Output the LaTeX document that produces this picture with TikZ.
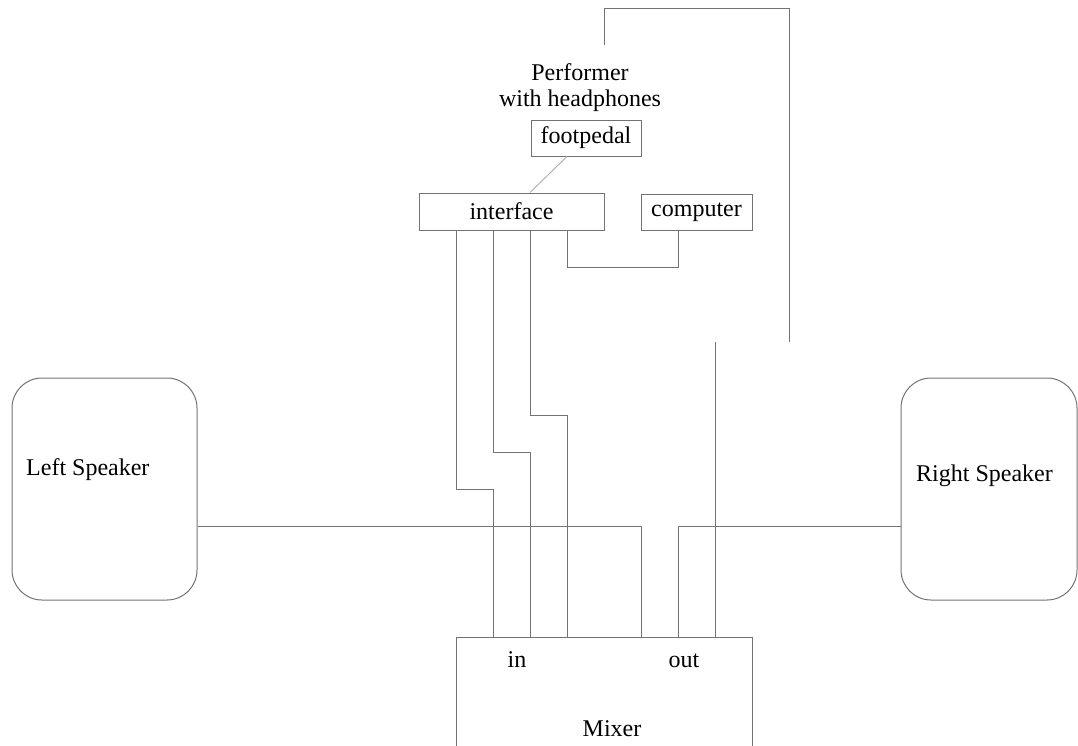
\documentclass[tikz,border=0pt]{standalone}
\usepackage{fontspec}
\setmainfont{Liberation Serif}
\usepackage{tikz}

\begin{document}
\begin{tikzpicture}[x=1pt,y=-1pt,
        font=\fontsize{24}{26}\selectfont,
        box/.style={draw=black!55,line width=1pt,inner sep=0pt},
        spk/.style={box,rounded corners=30pt},
        lbl/.style={inner sep=0pt},
        wire/.style={draw=black!55,line width=1pt}]
        \clip (0,0) rectangle (1078,745);

        % speakers
        \node[spk,minimum width=185pt,minimum height=222pt] (leftspk) at (104.5,489) {};
        \node[lbl,anchor=base west] (leftlbl) at (26,475) {Left Speaker};
        \node[spk,minimum width=176pt,minimum height=222pt] (rightspk) at (989,489) {};
        \node[lbl,anchor=base west] (rightlbl) at (916,481) {Right Speaker};

        % mixer, cut by the lower edge
        \node[box,minimum width=296pt,minimum height=160pt] (mixer) at (604,717) {};
        \node[lbl,anchor=base] (inlbl) at (517,667) {in};
        \node[lbl,anchor=base] (outlbl) at (684,667) {out};
        \node[lbl,anchor=base] (mixerlbl) at (612,736) {Mixer};

        % performer
        \node[lbl,align=center] (performer) at (580,87.5) {Performer\\with headphones};
        \node[box,minimum width=110pt,minimum height=36pt] (footpedal) at (586,138) {footpedal};
        \node[box,minimum width=185pt,minimum height=37pt] (interface) at (511.5,211.5) {interface};
        \node[box,minimum width=111pt,minimum height=36pt,text depth=5pt] (computer) at (696.5,212) {computer};

        \draw[draw=black!30,line width=1pt] ([xshift=-19pt]footpedal.south) -- ([xshift=18.5pt]interface.north);
        \draw[wire] ([xshift=55.5pt]interface.south) -- ++(0,37) -| ([xshift=-18.5pt]computer.south);

        % headphone leads
        \coordinate (phonesL) at (604,45);
        \coordinate (phonesR) at (789,342);
        \coordinate (outtop) at (715,342);
        \draw[wire] (phonesL) -- ++(0,-37) -| (phonesR);
        \draw[wire] (outtop) -- (outtop |- mixer.north);

        % interface to mixer in
        \foreach \dx/\len/\mx in {-55.5/259/-111, -18.5/222/-74, 18.5/185/-37}
            \draw[wire] ([xshift=\dx pt]interface.south) -- ++(0,\len) -| ([xshift=\mx pt]mixer.north);

        % mixer out to speakers
        \draw[wire] ([yshift=-37pt]leftspk.east) -| ([xshift=37pt]mixer.north);
        \draw[wire] ([yshift=-37pt]rightspk.west) -| ([xshift=74pt]mixer.north);
\end{tikzpicture}
\end{document}
